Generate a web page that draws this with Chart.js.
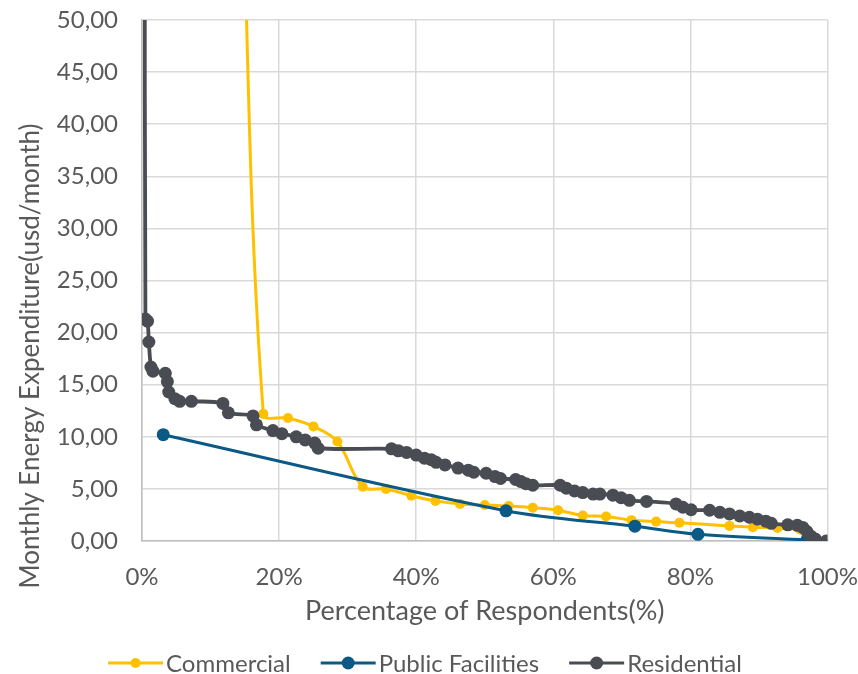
<!DOCTYPE html>
<html>
<head>
<meta charset="utf-8">
<style>
  html, body { margin: 0; padding: 0; background: #ffffff; }
  #wrap { width: 858px; height: 674px; }
</style>
<script src="https://cdn.jsdelivr.net/npm/chart.js@4.4.1/dist/chart.umd.min.js"></script>
</head>
<body>
<div id="wrap"><canvas id="c" width="858" height="674"></canvas></div>
<script>
// Share of respondents (%) against monthly energy spend (usd/month), per sector
const commercialX = [14.2, 17.7, 21.3, 25.0, 28.5, 32.2, 35.6, 39.3, 42.8, 46.4, 50.0, 53.5, 57.0, 60.7, 64.3, 67.7, 71.4, 75.0, 78.4, 85.7, 89.1, 92.7, 96.0];
const commercialY = [75, 12.2, 11.8, 11.0, 9.55, 5.2, 5.0, 4.35, 3.85, 3.55, 3.45, 3.35, 3.2, 2.95, 2.45, 2.35, 2.0, 1.86, 1.75, 1.45, 1.32, 1.25, 1.1];

const publicX = [3.1, 53.1, 71.9, 81.1, 97.0];
const publicY = [10.2, 2.9, 1.42, 0.64, 0.1];

const residentialX = [0.4, 0.5, 0.8, 1.0, 1.3, 1.6, 3.4, 3.7, 3.9, 4.8, 5.5, 7.2, 11.8, 12.6, 16.2, 16.7, 19.1, 20.4, 22.5, 23.8, 25.2, 25.7,
  36.4, 37.4, 38.6, 40.0, 41.2, 42.2, 42.9, 44.2, 46.1, 47.6, 48.4, 50.2, 51.5, 52.3, 54.5, 55.3, 56.0, 57.0,
  61.0, 61.9, 63.1, 64.3, 65.8, 66.8, 68.7, 69.9, 71.1, 73.6, 77.9, 78.9, 80.1, 82.8, 84.3, 85.7, 87.2, 88.6, 89.8,
  91.0, 91.8, 94.2, 95.6, 96.4, 97.0, 97.6, 98.2, 99.8];
const residentialY = [65, 21.3, 21.1, 19.1, 16.7, 16.3, 16.1, 15.3, 14.3, 13.65, 13.4, 13.4, 13.2, 12.3, 12.0, 11.15, 10.6, 10.3, 10.0, 9.7, 9.4, 8.9,
  8.85, 8.65, 8.5, 8.25, 7.95, 7.8, 7.55, 7.3, 7.0, 6.8, 6.6, 6.5, 6.18, 6.0, 5.9, 5.7, 5.5, 5.35,
  5.35, 5.07, 4.8, 4.65, 4.5, 4.5, 4.4, 4.15, 3.9, 3.8, 3.56, 3.24, 3.0, 2.95, 2.75, 2.6, 2.4, 2.28, 2.09,
  1.9, 1.7, 1.55, 1.5, 1.3, 0.9, 0.45, 0.2, 0.0];

const seriesNames = ['Commercial', 'Public Facilities', 'Residential'];
const seriesColors = ['#FFC000', '#0B5A86', '#4A4C54'];

const xTicks = [0, 20, 40, 60, 80, 100];
const yTicks = [0, 5, 10, 15, 20, 25, 30, 35, 40, 45, 50];

const FONT = 'Lato, "DejaVu Sans", sans-serif';
const TEXT = '#595959';

function pairs(xs, ys) { return xs.map((x, i) => ({ x: x, y: ys[i] })); }

// Rotated y-axis title, placed by hand so it can sit off the plot centre
const yTitlePlugin = {
  id: 'yTitle',
  afterDraw(chart) {
    const ctx = chart.ctx;
    ctx.save();
    ctx.translate(31, 356);
    ctx.rotate(-Math.PI / 2);
    ctx.font = '26px ' + FONT;
    ctx.fillStyle = TEXT;
    ctx.textAlign = 'center';
    ctx.textBaseline = 'middle';
    ctx.fillText('Monthly Energy Expenditure(usd/month)', 0, 0);
    ctx.restore();
  }
};

// Legend row: a short line with a marker, then the series name
const legendPlugin = {
  id: 'lineMarkerLegend',
  afterDraw(chart) {
    const ctx = chart.ctx;
    ctx.save();
    ctx.font = '24px ' + FONT;
    const lineW = 55, gapText = 3, gapItem = 30, y = 663;
    const widths = seriesNames.map(n => lineW + gapText + ctx.measureText(n).width);
    const total = widths.reduce((a, b) => a + b, 0) + gapItem * (seriesNames.length - 1);
    let x = chart.width / 2 - total / 2 - 4;
    seriesNames.forEach((name, i) => {
      const ds = chart.data.datasets[i];
      ctx.strokeStyle = seriesColors[i];
      ctx.lineWidth = 3;
      ctx.beginPath();
      ctx.moveTo(x, y);
      ctx.lineTo(x + lineW, y);
      ctx.stroke();
      ctx.fillStyle = seriesColors[i];
      ctx.beginPath();
      ctx.arc(x + lineW / 2, y, ds.pointRadius, 0, Math.PI * 2);
      ctx.fill();
      ctx.fillStyle = TEXT;
      ctx.textAlign = 'left';
      ctx.textBaseline = 'middle';
      ctx.fillText(name, x + lineW + gapText, y + 1);
      x += widths[i] + gapItem;
    });
    ctx.restore();
  }
};

new Chart(document.getElementById('c'), {
  type: 'scatter',
  data: {
    datasets: [
      {
        label: seriesNames[0], data: pairs(commercialX, commercialY),
        showLine: true, tension: 0.35, borderColor: seriesColors[0], backgroundColor: seriesColors[0],
        borderWidth: 3, pointRadius: 5, pointBorderWidth: 0, order: 3
      },
      {
        label: seriesNames[1], data: pairs(publicX, publicY),
        showLine: true, tension: 0.35, borderColor: seriesColors[1], backgroundColor: seriesColors[1],
        borderWidth: 3, pointRadius: 6.5, pointBorderWidth: 0, order: 2
      },
      {
        label: seriesNames[2], data: pairs(residentialX, residentialY),
        showLine: true, tension: 0.35, borderColor: seriesColors[2], backgroundColor: seriesColors[2],
        borderWidth: 3.8, pointRadius: 6.5, pointBorderWidth: 0, order: 1
      }
    ]
  },
  options: {
    responsive: false,
    animation: false,
    events: [],
    layout: { padding: { top: 20, right: 30, left: 0, bottom: 38 } },
    plugins: { legend: { display: false }, tooltip: { enabled: false } },
    scales: {
      x: {
        type: 'linear', min: 0, max: 100,
        afterBuildTicks(scale) { scale.ticks = xTicks.map(v => ({ value: v })); },
        afterFit(scale) { scale.height = 95; },
        grid: { color: '#d9d9d9', lineWidth: 1.5, drawTicks: true, tickLength: 22, tickColor: 'rgba(0,0,0,0)' },
        border: { color: '#bfbfbf', width: 1.5 },
        ticks: { padding: 0, color: TEXT, font: { family: FONT, size: 24 }, maxRotation: 0,
                 callback: v => v + '%' },
        title: { display: true, text: 'Percentage of Respondents(%)', color: TEXT,
                 font: { family: FONT, size: 27 }, padding: { top: 0, bottom: 9 } }
      },
      y: {
        type: 'linear', min: 0, max: 50,
        afterBuildTicks(scale) { scale.ticks = yTicks.map(v => ({ value: v })); },
        afterFit(scale) { scale.width = 142; },
        grid: { color: '#d9d9d9', lineWidth: 1.5, drawTicks: true, tickLength: 21, tickColor: 'rgba(0,0,0,0)' },
        border: { color: '#bfbfbf', width: 1.5 },
        ticks: { padding: 3, color: TEXT, font: { family: FONT, size: 24 },
                 callback: v => v.toFixed(2).replace('.', ',') }
      }
    }
  },
  plugins: [yTitlePlugin, legendPlugin]
});
</script>
</body>
</html>
